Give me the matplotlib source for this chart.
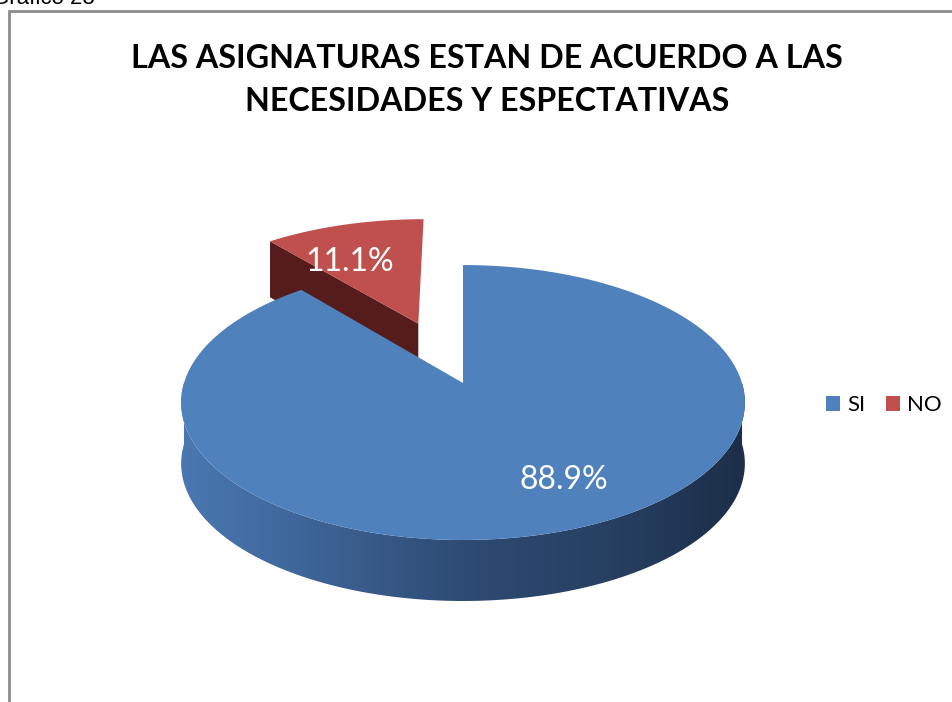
import numpy as np
import matplotlib
matplotlib.use("Agg")
import matplotlib.pyplot as plt
from matplotlib.patches import Polygon, Patch
from matplotlib.colors import LinearSegmentedColormap

# data
labels = ["SI", "NO"]
values = [88.9, 11.1]
title = "LAS ASIGNATURAS ESTAN DE ACUERDO A LAS\nNECESIDADES Y ESPECTATIVAS"
top_colors = ["#4F81BD", "#C0504D"]
dark_red = "#561C1B"
explode = [0.0, 0.5]

W, H = 952, 702
fig = plt.figure(figsize=(W / 100, H / 100), dpi=100)
ax = fig.add_axes([0, 0, 1, 1])
ax.set_xlim(0, W)
ax.set_ylim(H, 0)
ax.axis("off")

# pseudo 3d pie geometry (screen pixels)
cx, cy = 463, 383
A, B, k = 279, 134.7, 0.142
depth = 61


def proj(X, Y):
    f = 1.0 / (1.0 + k * Y)
    return cx + A * X * f, cy - B * Y * f


fracs = np.array(values) / sum(values)
# NO sits right before 12 o'clock, SI takes the rest clockwise
start_no = 90.0
end_no = 90.0 + 360 * fracs[1]
slices = {
    "SI": (end_no, 450.0),
    "NO": (start_no, end_no),
}


def slice_top(t0, t1, e):
    mid = np.radians((t0 + t1) / 2)
    ox, oy = e * np.cos(mid), e * np.sin(mid)
    th = np.radians(np.linspace(t0, t1, 200))
    X = np.concatenate([[ox], ox + np.cos(th)])
    Y = np.concatenate([[oy], oy + np.sin(th)])
    return np.column_stack(proj(X, Y)), (ox, oy)


# NO slice (behind)
t0, t1 = slices["NO"]
pts, (ox, oy) = slice_top(t0, t1, explode[1])
apex = np.array(proj(ox, oy))
outer = np.array(proj(ox + np.cos(np.radians(t1)), oy + np.sin(np.radians(t1))))
face = np.array([apex, outer, outer + [0, depth - 5], apex + [0, depth - 5]])
ax.add_patch(Polygon(face, closed=True, fc=dark_red, ec="none"))
ax.add_patch(Polygon(pts, closed=True, fc=top_colors[1], ec="none"))

# SI slice side (front arc) with gradient
th = np.radians(np.linspace(180, 360, 300))
sx, sy = proj(np.cos(th), np.sin(th))
side = np.column_stack([np.concatenate([sx, sx[::-1]]),
                        np.concatenate([sy, sy[::-1] + depth])])
side_patch = Polygon(side, closed=True, fc="none", ec="none")
ax.add_patch(side_patch)
cmap = LinearSegmentedColormap.from_list(
    "side", [(0.0, "#4A78B2"), (0.2, "#3F679B"), (0.5, "#2E4B73"),
             (0.78, "#263F61"), (1.0, "#1C2E48")])
grad = np.linspace(0, 1, 256)[None, :]
im = ax.imshow(grad, cmap=cmap, aspect="auto",
               extent=[sx.min(), sx.max(), sy.max() + depth + 2, sy.min() - 2],
               zorder=1)
im.set_clip_path(side_patch)
ax.set_xlim(0, W)
ax.set_ylim(H, 0)

t0, t1 = slices["SI"]
pts, _ = slice_top(t0, t1, explode[0])
ax.add_patch(Polygon(pts, closed=True, fc=top_colors[0], ec="none", zorder=2))

# value labels
ax.text(564, 480, f"{values[0]:.1f}%", color="white", fontsize=23,
        family="Lato", ha="center", va="center", zorder=3)
ax.text(350, 262, f"{values[1]:.1f}%", color="white", fontsize=23,
        family="Lato", ha="center", va="center", zorder=3)

# title
ax.text(487, 80, title, fontsize=23.2, fontweight="bold", family="Lato",
        ha="center", va="center", linespacing=1.55)

# frame and caption
ax.plot([9, 9, W + 5], [H + 5, 11, 11], color="#8C8C8C", lw=2,
        solid_joinstyle="miter", clip_on=False)
ax.text(95, 4, "Gráfico 28", fontsize=16, family="Liberation Sans",
        ha="right", va="baseline")

handles = [Patch(fc=c, ec="none") for c in top_colors]
ax.legend(handles, labels, loc="center left",
          bbox_to_anchor=(826 / W, 1 - 405 / H), ncol=2, frameon=False,
          prop={"family": "Lato", "size": 16}, handlelength=0.64,
          handleheight=0.64, handletextpad=0.3, columnspacing=0.95,
          borderpad=0, borderaxespad=0)

fig.savefig("out.png", dpi=100)
